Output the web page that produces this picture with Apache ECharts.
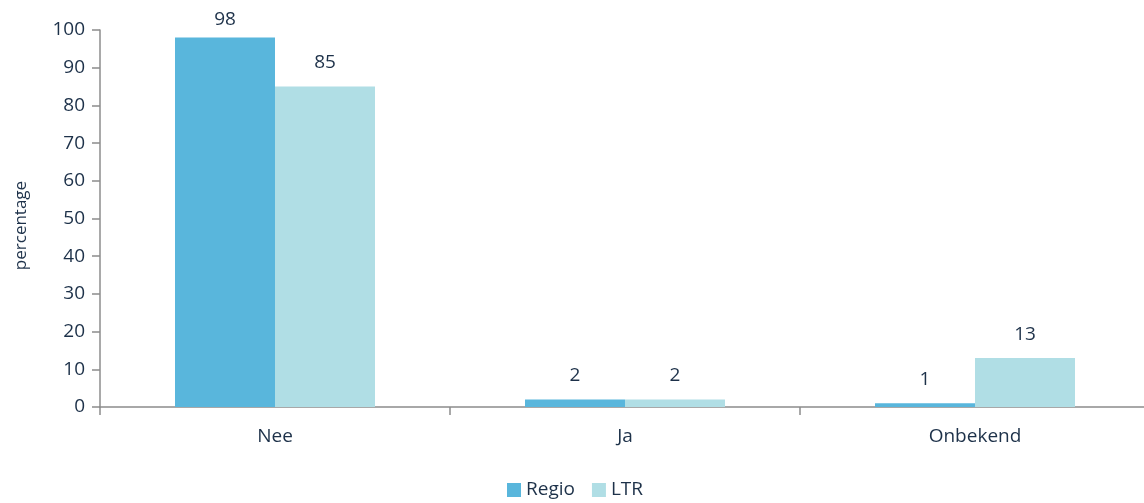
<!DOCTYPE html>
<html>
<head>
<meta charset="utf-8">
<script src="https://cdn.jsdelivr.net/npm/echarts@6/dist/echarts.min.js"></script>
<style>
  html, body { margin: 0; padding: 0; background: #fff; }
  #chart { width: 1144px; height: 503px; }
</style>
</head>
<body>
<div id="chart"></div>
<script>
// data
let categories = ['Nee', 'Ja', 'Onbekend'];
let regio = [98, 2, 1];
let ltr = [85, 2, 13];
let yTicks = { min: 0, max: 100, interval: 10 };

let textColor = '#1d3149';
let axisColor = '#8c8c8c';
let font = 'Open Sans';

let myChart = echarts.init(document.getElementById('chart'));

// labels near the top of the plot sit closer to the bar
let toItems = (arr) => arr.map(v => ({
    value: v,
    label: { distance: v > 95 ? 8 : 14 }
}));

let barLabel = {
    show: true,
    position: 'top',
    distance: 14,
    color: textColor,
    fontSize: 19,
    fontFamily: font
};

let option = {
    animation: false,
    textStyle: { fontFamily: font },
    grid: {
        left: 100,
        top: 30,
        width: 1050,
        bottom: 96,
        outerBoundsMode: 'none'
    },
    legend: {
        data: ['Regio', 'LTR'],
        left: 507,
        top: 480,
        padding: 0,
        icon: 'rect',
        itemWidth: 14,
        itemHeight: 14,
        itemGap: 17,
        textStyle: { color: textColor, fontSize: 19, lineHeight: 20, fontFamily: font }
    },
    xAxis: {
        type: 'category',
        data: categories,
        axisLine: { show: true, lineStyle: { color: axisColor, width: 1.5 } },
        axisTick: { show: true, length: 8, lineStyle: { color: axisColor, width: 1.5 } },
        axisLabel: { color: textColor, fontSize: 19, fontFamily: font, margin: 20 },
        splitLine: { show: false }
    },
    yAxis: {
        type: 'value',
        min: yTicks.min,
        max: yTicks.max,
        interval: yTicks.interval,
        name: 'percentage',
        nameLocation: 'middle',
        nameGap: 70,
        nameTextStyle: { color: textColor, fontSize: 17, fontFamily: font, padding: [0, 14, 0, 0] },
        axisLine: { show: true, lineStyle: { color: axisColor, width: 1.5 } },
        axisTick: { show: true, length: 8, lineStyle: { color: axisColor, width: 1.5 } },
        axisLabel: { color: textColor, fontSize: 19, fontFamily: font, margin: 15 },
        splitLine: { show: false }
    },
    series: [
        {
            name: 'Regio',
            type: 'bar',
            data: toItems(regio),
            barGap: '0%',
            barCategoryGap: '42.86%',
            itemStyle: { color: '#59b6dc' },
            label: barLabel
        },
        {
            name: 'LTR',
            type: 'bar',
            data: toItems(ltr),
            itemStyle: { color: '#b0dee5' },
            label: barLabel
        }
    ]
};
myChart.setOption(option);
</script>
</body>
</html>
